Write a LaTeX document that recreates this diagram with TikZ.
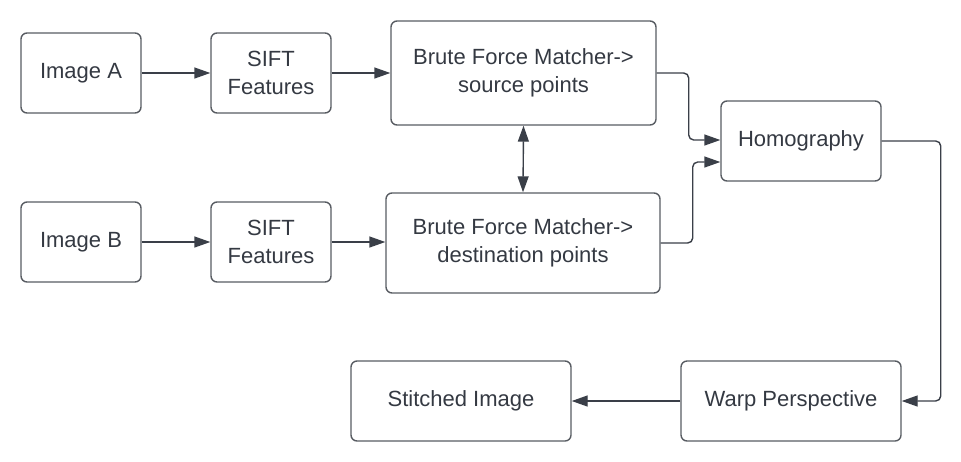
\documentclass[tikz,border=0pt]{standalone}
\usepackage{fontspec}
\setmainfont{Liberation Sans}
\usetikzlibrary{arrows.meta}
\definecolor{boxc}{RGB}{88,92,98}
\definecolor{linec}{RGB}{58,63,72}
\definecolor{textc}{RGB}{52,57,66}
\begin{document}
\begin{tikzpicture}[x=0.5pt,y=-0.5pt,
  box/.style={draw=boxc,line width=0.7pt,rounded corners=3pt,align=center,
    text=textc,font=\fontsize{11}{14}\selectfont,inner sep=0pt},
  arr/.style={draw=linec,line width=0.7pt,rounded corners=2.5pt,
    -{Triangle[length=8pt,width=5.5pt]}},
  darr/.style={draw=linec,line width=0.7pt,
    {Triangle[length=8pt,width=5.5pt]}-{Triangle[length=8pt,width=5.5pt]}}]
\useasboundingbox (0,0) rectangle (961,461);
\node[box,minimum width=60pt,minimum height=40pt] (imgA) at (81,73) {Image A};
\node[box,minimum width=60pt,minimum height=40pt] (siftA) at (271,73) {SIFT\\Features};
\node[box,minimum width=132.5pt,minimum height=52pt] (bfmS) at (523.5,73) {Brute Force Matcher-\textgreater\\source points};
\node[box,minimum width=60pt,minimum height=40pt] (imgB) at (81,242) {Image B};
\node[box,minimum width=60pt,minimum height=40pt] (siftB) at (271,242) {SIFT\\Features};
\node[box,minimum width=137pt,minimum height=50pt] (bfmD) at (523,243) {Brute Force Matcher-\textgreater\\destination points};
\node[box,minimum width=80pt,minimum height=40pt] (hom) at (801,141) {Homography};
\node[box,minimum width=110pt,minimum height=40pt] (warp) at (791,401) {Warp Perspective};
\node[box,minimum width=110pt,minimum height=40pt] (stitch) at (461,401) {Stitched Image};
\draw[arr] (imgA) -- (siftA);
\draw[arr] (siftA) -- (bfmS.west |- siftA.east);
\draw[arr] (imgB) -- (siftB);
\draw[arr] (siftB) -- (bfmD.west |- siftB.east);
\draw[darr] (bfmS.south) -- (bfmD.north);
\draw[arr] (bfmS.east) -- ++(32,0) |- ([yshift=0.5pt]hom.west);
\draw[arr] (bfmD.east) -- ++(32,0) |- ([yshift=-10.5pt]hom.west);
\draw[arr] (hom.east) -- ++(59,0) |- (warp.east);
\draw[arr] (warp) -- (stitch);
\end{tikzpicture}
\end{document}
